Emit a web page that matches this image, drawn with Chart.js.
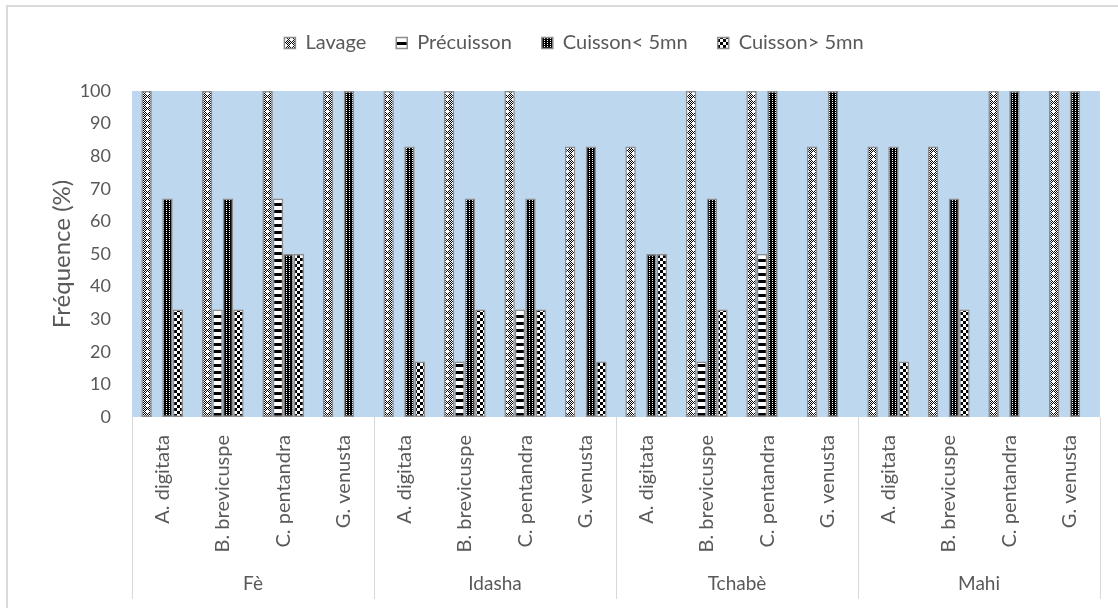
<!DOCTYPE html>
<html>
<head>
<meta charset="utf-8">
<script src="https://cdn.jsdelivr.net/npm/chart.js@4.4.1/dist/chart.umd.min.js"></script>
<style>
  html, body { margin: 0; padding: 0; background: #fff; }
  #wrap { width: 1118px; height: 608px; position: relative; }
</style>
</head>
<body>
<div id="wrap"><canvas id="c" width="1118" height="608"></canvas></div>
<script>
// Species (repeated per locality) and localities
const species = ['A. digitata', 'B. brevicuspe', 'C. pentandra', 'G. venusta'];
const localities = ['Fè', 'Idasha', 'Tchabè', 'Mahi'];
const categories = localities.flatMap(() => species);

// Frequencies (%) per species, in locality order Fè, Idasha, Tchabè, Mahi
const lavage       = [100, 100, 100, 100,  100, 100, 100, 83,  83, 100, 100, 83,  83, 83, 100, 100];
const precuisson   = [0, 33, 67, 0,        0, 17, 33, 0,       0, 17, 50, 0,      0, 0, 0, 0];
const cuissonMoins = [67, 67, 50, 100,     83, 67, 67, 83,     50, 67, 100, 100,  83, 67, 100, 100];
const cuissonPlus  = [33, 33, 50, 0,       17, 33, 33, 17,     50, 33, 0, 0,      17, 33, 0, 0];

const yTicks = { min: 0, max: 100, step: 10 };
const seriesNames = ['Lavage', 'Précuisson', 'Cuisson< 5mn', 'Cuisson> 5mn'];

const FONT = 'Lato, "Open Sans", sans-serif';
const TEXT = '#595959';
const PLOT_TOP = 91;
const PAD_TOP = 3;

// --- fill patterns -------------------------------------------------------
function makePattern(w, h, paint) {
  const cv = document.createElement('canvas');
  cv.width = w; cv.height = h;
  const g = cv.getContext('2d');
  paint(g, w, h);
  return g.createPattern(cv, 'repeat');
}
function px(g, x, y, c) { g.fillStyle = c; g.fillRect(x, y, 1, 1); }

// fine checker with small white crosses
const patLavage = makePattern(6, 6, (g, w, h) => {
  for (let y = 0; y < h; y++) for (let x = 0; x < w; x++)
    px(g, x, y, (x + y) % 2 ? '#000' : '#fff');
  px(g, 3, 2, '#fff'); px(g, 2, 3, '#fff'); px(g, 4, 3, '#fff'); px(g, 3, 4, '#fff'); px(g, 3, 3, '#fff');
});
// horizontal black / white stripes
const patPre = makePattern(4, 7, (g, w, h) => {
  g.fillStyle = '#fff'; g.fillRect(0, 0, w, h);
  g.fillStyle = '#000'; g.fillRect(0, 0, w, 3);
});
// dark with white dots
const patMoins = makePattern(3, 2, (g, w, h) => {
  g.fillStyle = '#000'; g.fillRect(0, 0, w, h);
  px(g, 1, 0, '#fff');
});
// checkerboard
const patPlus = makePattern(6, 6, (g, w, h) => {
  g.fillStyle = '#fff'; g.fillRect(0, 0, w, h);
  g.fillStyle = '#000'; g.fillRect(0, 0, 3, 3); g.fillRect(3, 3, 3, 3);
});

// --- plugins -------------------------------------------------------------
// legend box keeps its items at the top, with free space below it
const legendSpace = {
  id: 'legendSpace',
  beforeUpdate(chart) {
    const lg = chart.legend;
    if (lg && !lg._spaced) {
      const fit = lg.fit.bind(lg);
      lg.fit = function () { fit(); this.height = PLOT_TOP - PAD_TOP; };
      lg._spaced = true;
    }
  }
};

const plotBackground = {
  id: 'plotBackground',
  beforeDraw(chart) {
    const { ctx, chartArea: a } = chart;
    ctx.save();
    ctx.fillStyle = '#fff';
    ctx.fillRect(0, 0, chart.width, chart.height);
    ctx.fillStyle = '#BDD7EE';
    ctx.fillRect(a.left, a.top, a.right - a.left, a.bottom - a.top);
    ctx.restore();
  }
};

const localityAxis = {
  id: 'localityAxis',
  afterDraw(chart) {
    const { ctx, chartArea: a } = chart;
    const x = chart.scales.x;
    const per = species.length;
    const step = (a.right - a.left) / categories.length;
    ctx.save();
    ctx.strokeStyle = '#D9D9D9';
    ctx.lineWidth = 1;
    for (let g = 0; g <= localities.length; g++) {
      const xx = Math.round(x.getPixelForValue(g * per) - step / 2) + 0.5;
      ctx.beginPath();
      ctx.moveTo(xx, a.bottom);
      ctx.lineTo(xx, 599);
      ctx.stroke();
    }
    ctx.fillStyle = TEXT;
    ctx.font = '19px ' + FONT;
    ctx.textAlign = 'center';
    ctx.textBaseline = 'middle';
    localities.forEach((name, g) => {
      const l = x.getPixelForValue(g * per) - step / 2;
      const r = x.getPixelForValue(g * per + per - 1) + step / 2;
      ctx.fillText(name, (l + r) / 2, 584);
    });
    // outer frame
    ctx.strokeStyle = '#D9D9D9';
    ctx.lineWidth = 2;
    ctx.beginPath();
    ctx.moveTo(7, chart.height + 2);
    ctx.lineTo(7, 6);
    ctx.lineTo(chart.width + 2, 6);
    ctx.stroke();
    ctx.restore();
  }
};

const mk = (label, data, pat) => ({
  label, data,
  backgroundColor: pat,
  borderColor: '#8C8C8C',
  borderWidth: 1.5,
  borderSkipped: false,
  categoryPercentage: 0.69,
  barPercentage: 1.0
});

new Chart(document.getElementById('c'), {
  type: 'bar',
  data: {
    labels: categories,
    datasets: [
      mk(seriesNames[0], lavage, patLavage),
      mk(seriesNames[1], precuisson, patPre),
      mk(seriesNames[2], cuissonMoins, patMoins),
      mk(seriesNames[3], cuissonPlus, patPlus)
    ]
  },
  options: {
    responsive: false,
    animation: false,
    layout: { padding: { left: 48, right: 18, top: PAD_TOP, bottom: 0 } },
    plugins: {
      tooltip: { enabled: false },
      legend: {
        position: 'top',
        labels: {
          boxWidth: 11, boxHeight: 11,
          padding: 30,
          color: TEXT,
          font: { family: FONT, size: 20 }
        }
      }
    },
    scales: {
      x: {
        grid: { display: false },
        border: { display: false },
        ticks: {
          minRotation: 90, maxRotation: 90,
          autoSkip: false,
          padding: 10,
          color: TEXT,
          font: { family: FONT, size: 20 }
        },
        afterFit(s) { s.height = 191; }
      },
      y: {
        min: yTicks.min, max: yTicks.max,
        grid: { display: false },
        border: { display: false },
        ticks: {
          stepSize: yTicks.step,
          padding: 13,
          color: TEXT,
          font: { family: FONT, size: 18 }
        },
        title: {
          display: true,
          text: 'Fréquence (%)',
          color: TEXT,
          font: { family: FONT, size: 24 },
          padding: { top: 0, bottom: 0 }
        },
        afterFit(s) { s.width = 84; }
      }
    }
  },
  plugins: [legendSpace, plotBackground, localityAxis]
});
</script>
</body>
</html>
